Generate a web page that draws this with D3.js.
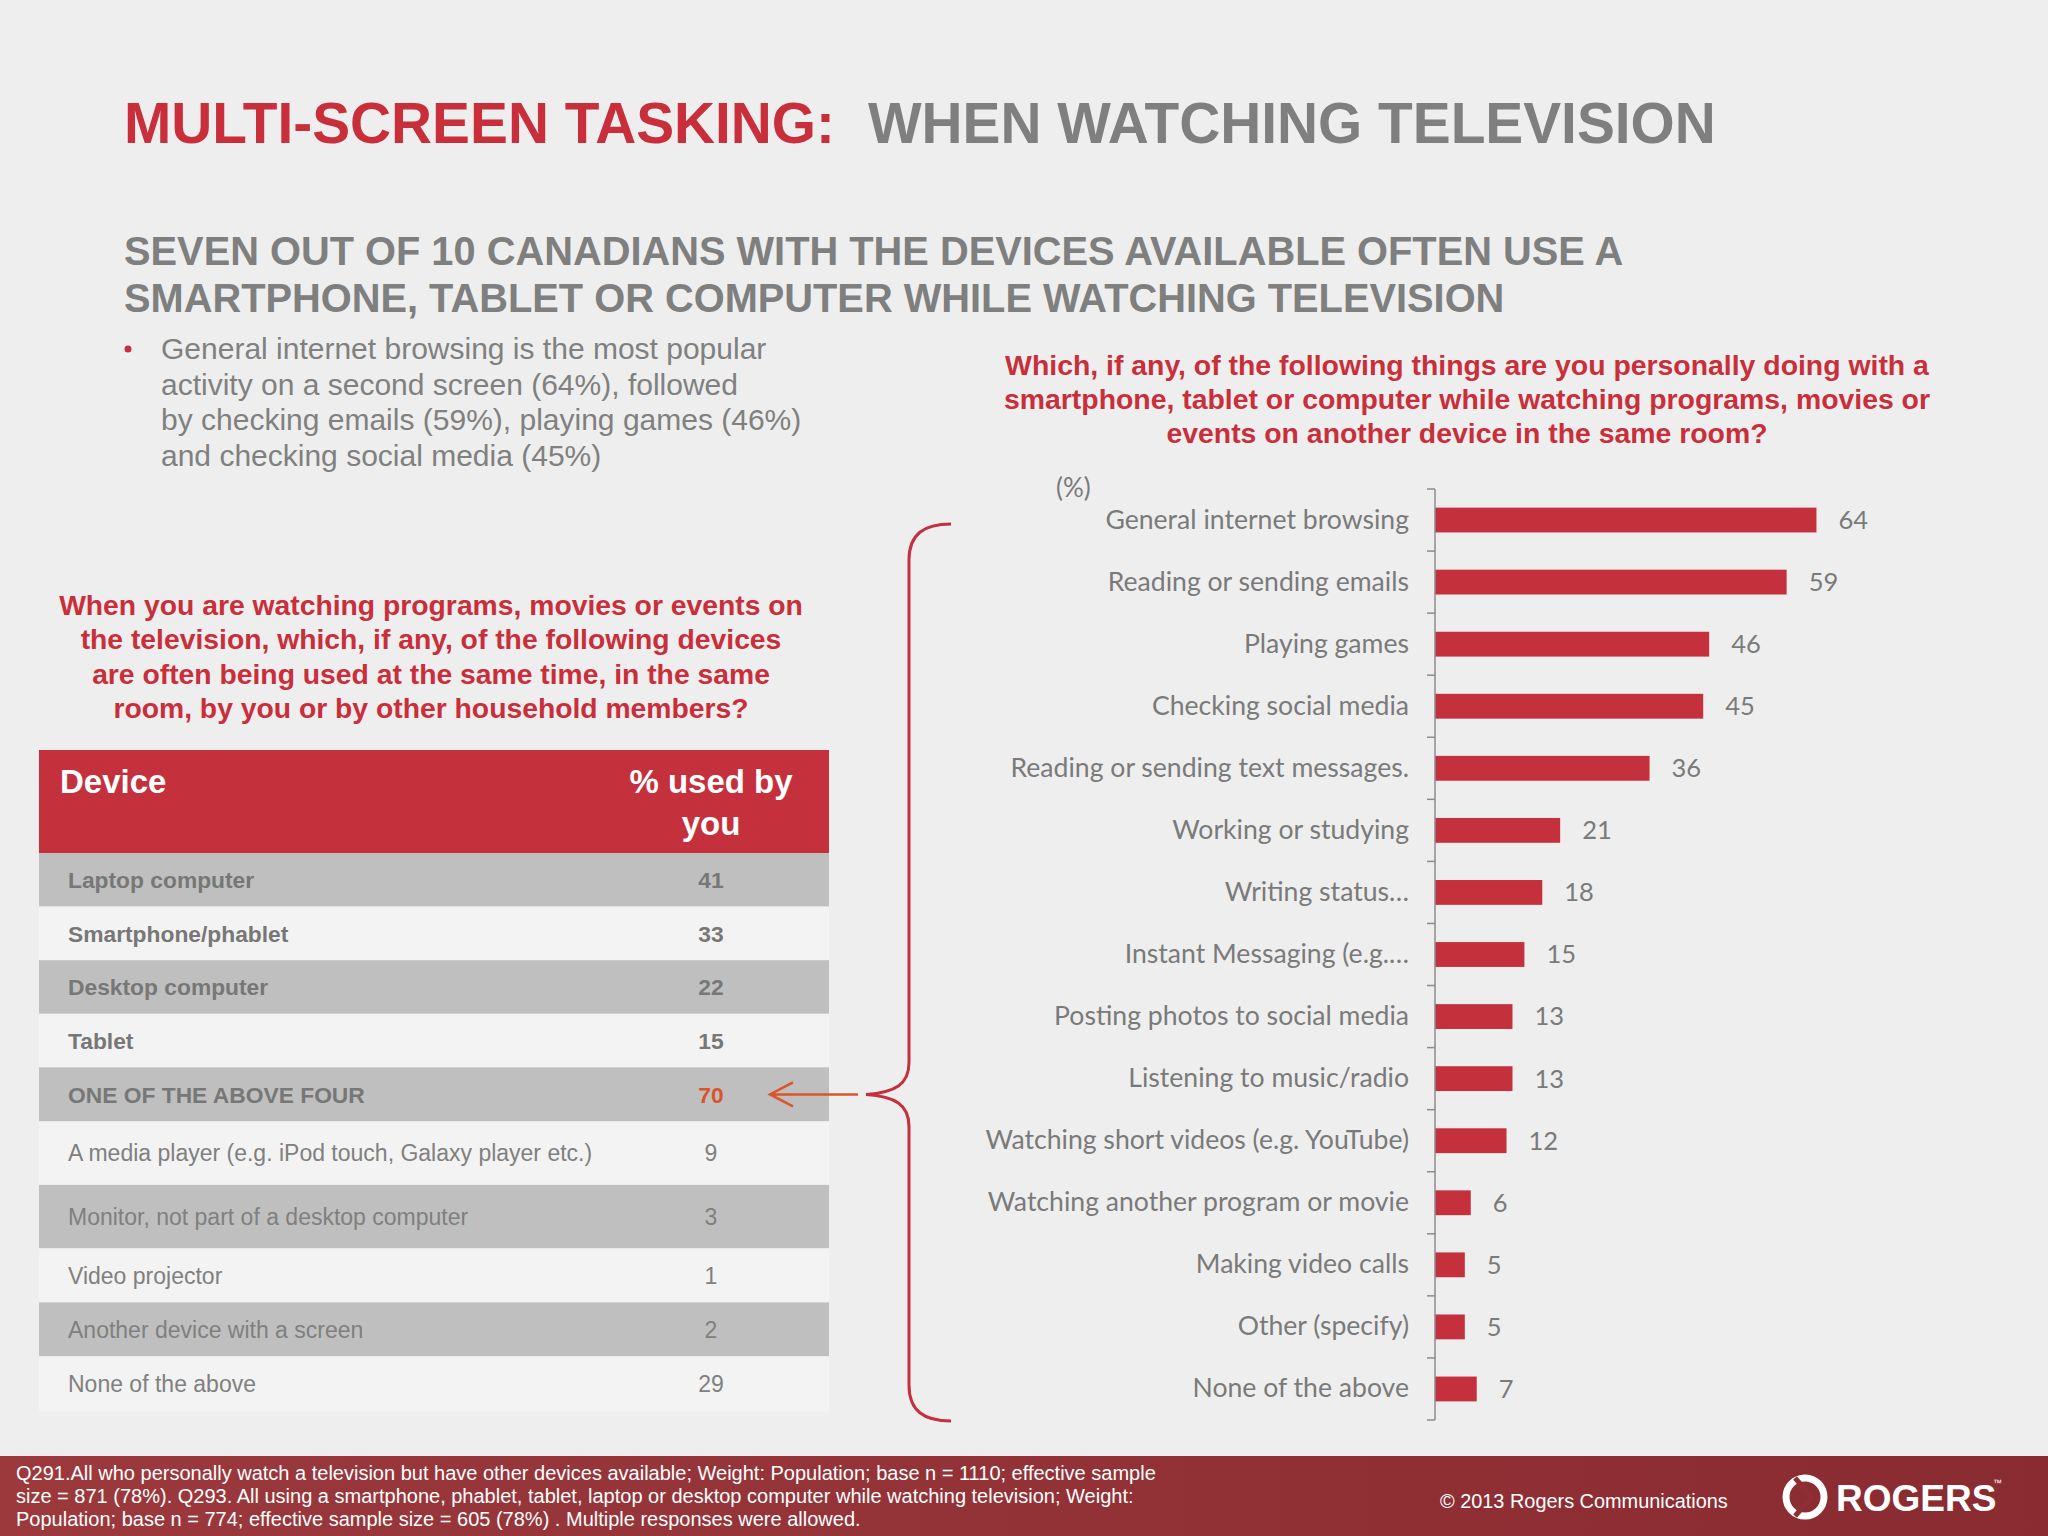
<!DOCTYPE html>
<html>
<head>
<meta charset="utf-8">
<script src="https://cdn.jsdelivr.net/npm/d3@7"></script>
<style>
  html, body { margin: 0; padding: 0; background: #eeeeee; }
  svg { display: block; }
</style>
</head>
<body>
<svg id="chart" width="2048" height="1536"></svg>
<script>
// ---------------- DATA ----------------
const titleRed = "MULTI-SCREEN TASKING:";
const titleGray = "WHEN WATCHING TELEVISION";
const subtitleLines = [
  "SEVEN OUT OF 10 CANADIANS WITH THE DEVICES AVAILABLE OFTEN USE A",
  "SMARTPHONE, TABLET OR COMPUTER WHILE WATCHING TELEVISION"
];
const bulletLines = [
  "General internet browsing is the most popular",
  "activity on a second screen (64%), followed",
  "by checking emails (59%), playing games (46%)",
  "and checking social media (45%)"
];
const leftQuestion = [
  "When you are watching programs, movies or events on",
  "the television, which, if any, of the following devices",
  "are often being used at the same time, in the same",
  "room, by you or by other household members?"
];
const rightQuestion = [
  "Which, if any, of the following things are you personally doing with a",
  "smartphone, tablet or computer while watching programs, movies or",
  "events on another device in the same room?"
];
const tableHeader = ["Device", ["% used by", "you"]];
const devices = [
  "Laptop computer",
  "Smartphone/phablet",
  "Desktop computer",
  "Tablet",
  "ONE OF THE ABOVE FOUR",
  "A media player (e.g. iPod touch, Galaxy player etc.)",
  "Monitor, not part of a desktop computer",
  "Video projector",
  "Another device with a screen",
  "None of the above"
];
const deviceValues = [41, 33, 22, 15, 70, 9, 3, 1, 2, 29];

const activities = [
  "General internet browsing",
  "Reading or sending emails",
  "Playing games",
  "Checking social media",
  "Reading or sending text messages.",
  "Working or studying",
  "Writing status…",
  "Instant Messaging (e.g.…",
  "Posting photos to social media",
  "Listening to music/radio",
  "Watching short videos (e.g. YouTube)",
  "Watching another program or movie",
  "Making video calls",
  "Other (specify)",
  "None of the above"
];
const activityValues = [64, 59, 46, 45, 36, 21, 18, 15, 13, 13, 12, 6, 5, 5, 7];
const unitLabel = "(%)";
const footerLines = [
  "Q291.All who personally watch a television but have other devices available; Weight: Population; base n = 1110; effective sample",
  "size = 871 (78%). Q293. All using a smartphone, phablet, tablet, laptop or desktop computer while watching television; Weight:",
  "Population; base n = 774; effective sample size = 605 (78%) . Multiple responses were allowed."
];
const copyright = "© 2013 Rogers Communications";
const brand = "ROGERS";

// ---------------- STYLE ----------------
const RED = "#c4303c";
const ARIAL = "'Liberation Sans', Arial, Helvetica, sans-serif";
const CALIBRI = "Lato, 'Open Sans', sans-serif";

const svg = d3.select("#chart");
svg.append("rect").attr("width", 2048).attr("height", 1536).attr("fill", "#eeeeee");

// ---------------- TITLES ----------------
const title = svg.append("text").attr("x", 124).attr("y", 143)
  .attr("font-family", ARIAL).attr("font-weight", "bold").attr("font-size", 56.8);
title.append("tspan").attr("fill", "#c92f3b").text(titleRed);
title.append("tspan").attr("x", 868).attr("fill", "#7f7f7f").text(titleGray);

svg.selectAll(".sub").data(subtitleLines).join("text")
  .attr("x", 124).attr("y", (d, i) => 265 + i * 47)
  .attr("font-family", ARIAL).attr("font-weight", "bold").attr("font-size", 39.8)
  .attr("fill", "#7f7f7f").text(d => d);

svg.append("circle").attr("cx", 128).attr("cy", 349).attr("r", 3.5).attr("fill", RED);
svg.selectAll(".bul").data(bulletLines).join("text")
  .attr("x", 161).attr("y", (d, i) => 359 + i * 35.7)
  .attr("font-family", ARIAL).attr("font-size", 30).attr("fill", "#808080").text(d => d);

svg.selectAll(".lq").data(leftQuestion).join("text")
  .attr("x", 431).attr("y", (d, i) => 615 + i * 34.3).attr("text-anchor", "middle")
  .attr("font-family", ARIAL).attr("font-weight", "bold").attr("font-size", 28.3)
  .attr("fill", "#c92f3b").text(d => d);

svg.selectAll(".rq").data(rightQuestion).join("text")
  .attr("x", 1467).attr("y", (d, i) => 375 + i * 34).attr("text-anchor", "middle")
  .attr("font-family", ARIAL).attr("font-weight", "bold").attr("font-size", 28.4)
  .attr("fill", "#c92f3b").text(d => d);

// ---------------- TABLE ----------------
const tX0 = 39, tX1 = 829, tHeadTop = 750, tHeadBot = 853;
const rowHeights = [53.6, 53.6, 53.6, 53.6, 54, 63.5, 63.5, 54, 54, 55];
const rowTops = [];
rowHeights.reduce((acc, h) => { rowTops.push(acc); return acc + h; }, tHeadBot);

svg.append("rect").attr("x", tX0).attr("y", tHeadTop).attr("width", tX1 - tX0)
  .attr("height", tHeadBot - tHeadTop).attr("fill", RED);
svg.append("text").attr("x", 60).attr("y", 793).attr("font-family", ARIAL)
  .attr("font-weight", "bold").attr("font-size", 33).attr("fill", "#fff").text(tableHeader[0]);
svg.selectAll(".th2").data(tableHeader[1]).join("text")
  .attr("x", 711).attr("y", (d, i) => 793 + i * 42).attr("text-anchor", "middle")
  .attr("font-family", ARIAL).attr("font-weight", "bold").attr("font-size", 33)
  .attr("fill", "#fff").text(d => d);

const rows = svg.append("g").selectAll("g").data(devices).join("g");
rows.append("rect").attr("x", tX0).attr("y", (d, i) => rowTops[i])
  .attr("width", tX1 - tX0).attr("height", (d, i) => rowHeights[i])
  .attr("fill", (d, i) => i % 2 === 0 ? "#bfbfbf" : "#f3f3f3");
rows.append("text").attr("x", 68).attr("y", (d, i) => rowTops[i] + rowHeights[i] / 2)
  .attr("dy", "0.36em").attr("font-family", ARIAL)
  .attr("font-weight", (d, i) => i < 5 ? "bold" : "normal")
  .attr("font-size", (d, i) => i < 5 ? 22.8 : 23)
  .attr("fill", (d, i) => i < 5 ? "#777" : "#808080").text(d => d);
rows.append("text").attr("x", 711).attr("y", (d, i) => rowTops[i] + rowHeights[i] / 2)
  .attr("dy", "0.36em").attr("text-anchor", "middle").attr("font-family", ARIAL)
  .attr("font-weight", (d, i) => i < 5 ? "bold" : "normal")
  .attr("font-size", (d, i) => i < 5 ? 22.8 : 23)
  .attr("fill", (d, i) => i === 4 ? "#d9552b" : (i < 5 ? "#777" : "#808080"))
  .text((d, i) => deviceValues[i]);

// arrow from brace to table
const arrowY = rowTops[4] + rowHeights[4] / 2;
svg.append("path").attr("d", `M858,${arrowY} L770,${arrowY} M793,${arrowY - 12} L770,${arrowY} L793,${arrowY + 12}`)
  .attr("fill", "none").attr("stroke", "#d9552b").attr("stroke-width", 2.5);

// ---------------- BAR CHART ----------------
const axisX = 1435;
const y = d3.scaleBand().domain(activities).range([489, 1420]).paddingInner(0.6).paddingOuter(0.3);
const x = d3.scaleLinear().domain([0, 100]).range([0, 596]);

// brace
const bt = 524, bb = 1421, bx = 909, tipX = 866;
svg.append("path")
  .attr("d", `M951,${bt} C924,${bt} ${bx},${bt + 10} ${bx},${bt + 36}
              L${bx},${arrowY - 32} C${bx},${arrowY - 10} ${bx - 14},${arrowY - 2} ${tipX},${arrowY}
              C${bx - 14},${arrowY + 2} ${bx},${arrowY + 10} ${bx},${arrowY + 32}
              L${bx},${bb - 36} C${bx},${bb - 10} 924,${bb} 951,${bb}`)
  .attr("fill", "none").attr("stroke", RED).attr("stroke-width", 3);

const chart = svg.append("g");
chart.selectAll(".bar").data(activities).join("rect")
  .attr("x", axisX).attr("y", d => y(d)).attr("height", y.bandwidth())
  .attr("width", (d, i) => x(activityValues[i])).attr("fill", RED);

chart.selectAll(".val").data(activities).join("text")
  .attr("x", (d, i) => axisX + x(activityValues[i]) + 22)
  .attr("y", d => y(d) + y.bandwidth() / 2).attr("dy", "0.35em")
  .attr("font-family", CALIBRI).attr("font-size", 25.5).attr("fill", "#7a7a7a")
  .text((d, i) => activityValues[i]);

const yAxis = d3.axisLeft(y).tickSize(0).tickPadding(26);
const ag = chart.append("g").attr("transform", `translate(${axisX},0)`).call(yAxis);
ag.select(".domain").remove();
ag.selectAll("text").attr("font-family", CALIBRI).attr("font-size", 26.6).attr("fill", "#7a7a7a");

// axis line and boundary ticks
const step = y.step();
const y0 = y.range()[0];
chart.append("line").attr("x1", axisX).attr("x2", axisX).attr("y1", y0).attr("y2", y.range()[1])
  .attr("stroke", "#8c8c8c").attr("stroke-width", 1.5);
chart.selectAll(".btick").data(d3.range(activities.length + 1)).join("line")
  .attr("x1", axisX - 8).attr("x2", axisX)
  .attr("y1", i => y0 + i * step).attr("y2", i => y0 + i * step)
  .attr("stroke", "#8c8c8c").attr("stroke-width", 1.5);

svg.append("text").attr("x", 1056).attr("y", 488).attr("dy", "0.35em")
  .attr("font-family", CALIBRI).attr("font-size", 26).attr("fill", "#7a7a7a").text(unitLabel);

// ---------------- FOOTER ----------------
const defs = svg.append("defs");
const grad = defs.append("linearGradient").attr("id", "fgrad").attr("x1", 0).attr("x2", 1).attr("y1", 0).attr("y2", 0);
grad.append("stop").attr("offset", 0).attr("stop-color", "#9b393d");
grad.append("stop").attr("offset", 1).attr("stop-color", "#8a2b31");
svg.append("rect").attr("x", 0).attr("y", 1456).attr("width", 2048).attr("height", 80).attr("fill", "url(#fgrad)");
svg.selectAll(".foot").data(footerLines).join("text")
  .attr("x", 16).attr("y", (d, i) => 1480 + i * 23)
  .attr("font-family", ARIAL).attr("font-size", 20).attr("fill", "#fff").text(d => d);
svg.append("text").attr("x", 1440).attr("y", 1508).attr("font-family", ARIAL)
  .attr("font-size", 19.9).attr("fill", "#fff").text(copyright);

// logo
svg.append("circle").attr("cx", 1805).attr("cy", 1497).attr("r", 19)
  .attr("fill", "none").attr("stroke", "#fff").attr("stroke-width", 7);
svg.append("path").attr("d", "M1795,1478 L1812,1497 L1795,1516")
  .attr("fill", "none").attr("stroke", "#8f2f35").attr("stroke-width", 5);
svg.append("text").attr("x", 1836).attr("y", 1511).attr("font-family", ARIAL)
  .attr("font-weight", "bold").attr("font-size", 37).attr("fill", "#fff").text(brand);
svg.append("text").attr("x", 1993).attr("y", 1486).attr("font-family", ARIAL)
  .attr("font-size", 9).attr("fill", "#fff").text("™");
</script>
</body>
</html>
